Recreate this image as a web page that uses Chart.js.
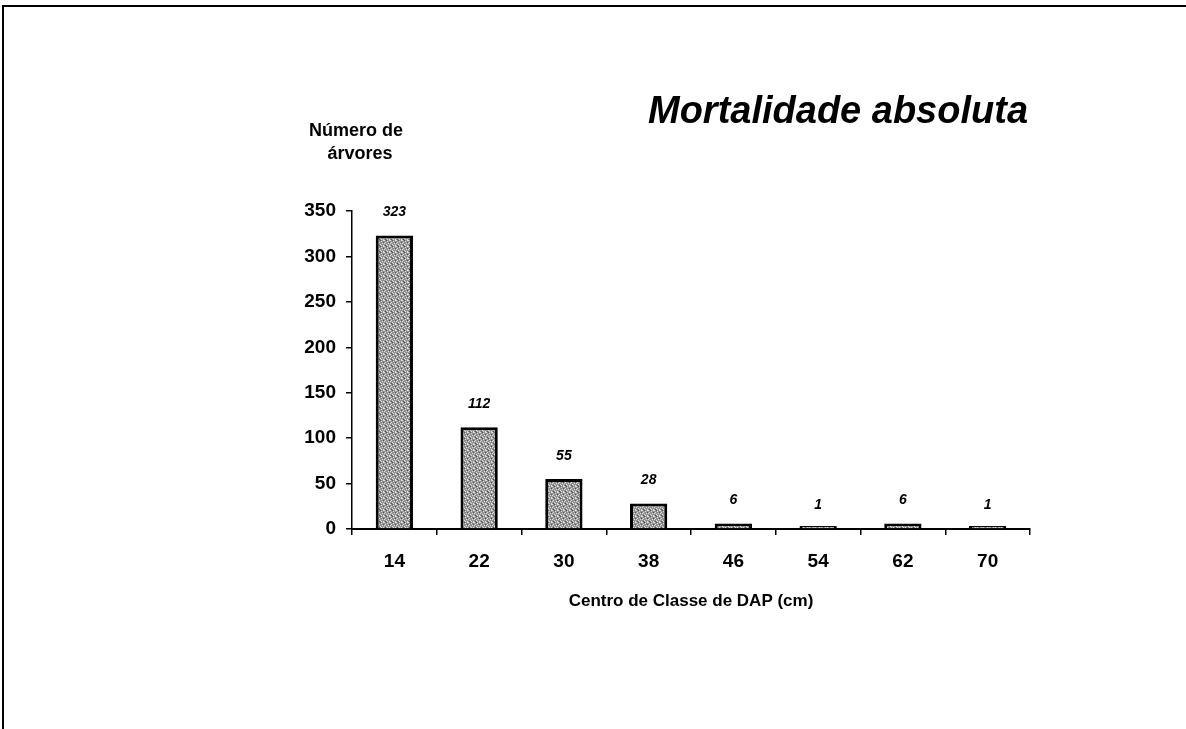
<!DOCTYPE html>
<html>
<head>
<meta charset="utf-8">
<script src="https://cdn.jsdelivr.net/npm/chart.js@4/dist/chart.umd.min.js"></script>
<style>
  html, body { margin: 0; padding: 0; background: #fff; }
  #wrap { width: 1186px; height: 729px; }
</style>
</head>
<body>
<div id="wrap"><canvas id="mortChart" width="1186" height="729"></canvas></div>
<script>
// Mortalidade absoluta por centro de classe de DAP
const classCenters = ["14", "22", "30", "38", "46", "54", "62", "70"];
const deadTrees = [323, 112, 55, 28, 6, 1, 6, 1];
const yTicks = [0, 50, 100, 150, 200, 250, 300, 350];

const FONT = "'Liberation Sans', Arial, sans-serif";

// speckled grey fill for the bars
function speckle() {
    const c = document.createElement("canvas");
    c.width = 6; c.height = 6;
    const g = c.getContext("2d");
    g.fillStyle = "#929292";
    g.fillRect(0, 0, 6, 6);
    g.fillStyle = "#dcdcdc";
    [[0,0],[3,1],[1,2],[4,3],[2,4],[5,5],[0,3],[3,5],[5,0]].forEach(p => g.fillRect(p[0], p[1], 1, 1));
    g.fillStyle = "#555";
    [[2,0],[5,2],[1,5]].forEach(p => g.fillRect(p[0], p[1], 1, 1));
    return g.createPattern(c, "repeat");
}

const decor = {
    id: "decor",
    beforeDraw(chart) {
        const ctx = chart.ctx;
        ctx.save();
        ctx.fillStyle = "#fff";
        ctx.fillRect(0, 0, chart.width, chart.height);
        // frame lines
        ctx.strokeStyle = "#000";
        ctx.lineWidth = 2;
        ctx.beginPath();
        ctx.moveTo(3, chart.height);
        ctx.lineTo(3, 6);
        ctx.lineTo(chart.width, 6);
        ctx.stroke();
        ctx.restore();
    },
    afterDraw(chart) {
        const ctx = chart.ctx;
        ctx.save();
        ctx.fillStyle = "#000";
        ctx.textAlign = "center";
        ctx.textBaseline = "middle";
        // title
        ctx.font = "italic bold 38px " + FONT;
        ctx.fillText("Mortalidade absoluta", 838, 113);
        // y axis title
        ctx.font = "bold 18px " + FONT;
        ctx.fillText("Número de", 356, 131);
        ctx.fillText("árvores", 360, 154);
        // value labels
        ctx.font = "italic bold 14px " + FONT;
        const meta = chart.getDatasetMeta(0);
        meta.data.forEach((bar, i) => {
            const top = chart.scales.y.getPixelForValue(deadTrees[i]);
            ctx.fillText(String(deadTrees[i]), bar.x, top - 23);
        });
        ctx.restore();
    }
};

new Chart(document.getElementById("mortChart"), {
    type: "bar",
    data: {
        labels: classCenters,
        datasets: [{
            data: deadTrees,
            backgroundColor: speckle(),
            borderColor: "#000",
            borderWidth: 3,
            borderSkipped: "bottom",
            minBarLength: 3,
            categoryPercentage: 1,
            barPercentage: 0.44
        }]
    },
    options: {
        responsive: false,
        animation: false,
        events: [],
        layout: { padding: { left: 292, top: 211, right: 156, bottom: 113 } },
        plugins: { legend: { display: false }, tooltip: { enabled: false } },
        scales: {
            x: {
                afterFit: s => { s.height = 87; },
                grid: { drawOnChartArea: false, color: "#000", tickLength: 6, lineWidth: 1.5, offset: true },
                border: { color: "#000", width: 2 },
                ticks: { color: "#000", padding: 15, font: { family: FONT, size: 19, weight: "bold" } },
                title: {
                    display: true,
                    text: "Centro de Classe de DAP (cm)",
                    color: "#000",
                    padding: { top: 6 },
                    font: { family: FONT, size: 17, weight: "bold" }
                }
            },
            y: {
                min: 0,
                max: 350,
                afterFit: s => { s.width = 60; },
                afterBuildTicks: s => { s.ticks = yTicks.map(v => ({ value: v })); },
                grid: { drawOnChartArea: false, color: "#000", tickLength: 6, lineWidth: 1.5 },
                border: { color: "#000", width: 1.5 },
                ticks: { color: "#000", padding: 10, font: { family: FONT, size: 19, weight: "bold" } }
            }
        }
    },
    plugins: [decor]
});
</script>
</body>
</html>
